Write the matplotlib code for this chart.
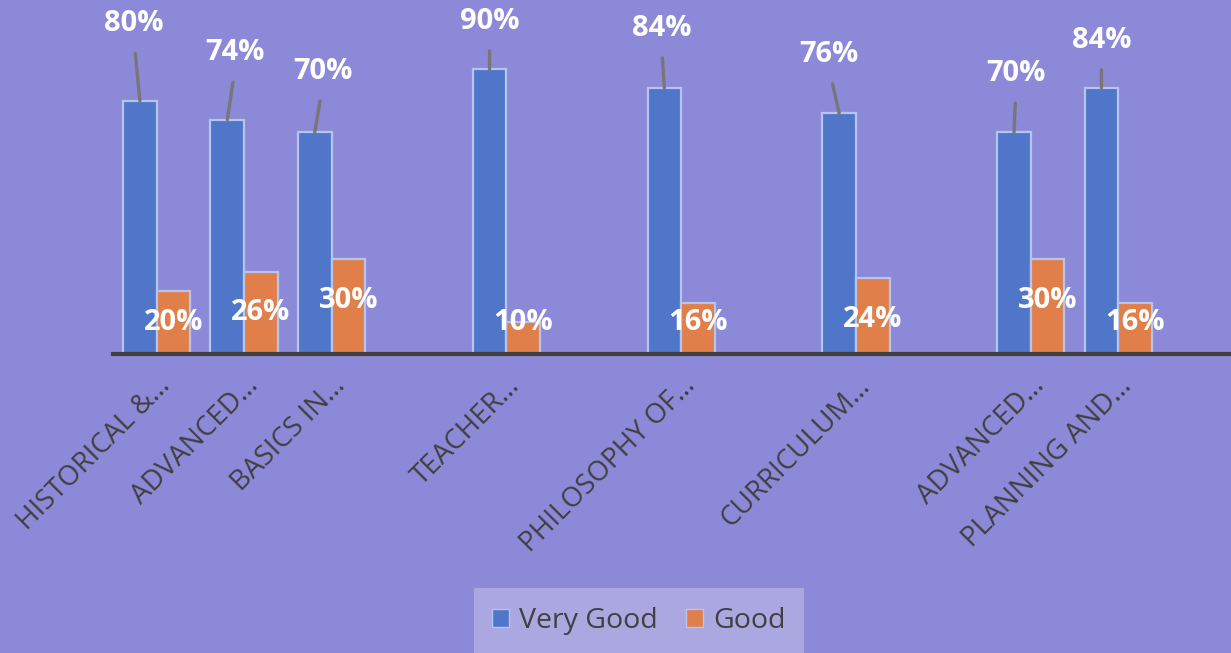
import numpy as np
import matplotlib.pyplot as plt
from matplotlib.patches import Patch

# data (blank columns are empty rows in the source sheet)
categories = ['HISTORICAL &…', 'ADVANCED…', 'BASICS IN…', '', 'TEACHER…', '',
              'PHILOSOPHY OF…', '', 'CURRICULUM…', '', 'ADVANCED…', 'PLANNING AND…']
very_good = [80, 74, 70, np.nan, 90, np.nan, 84, np.nan, 76, np.nan, 70, 84]
good = [20, 26, 30, np.nan, 10, np.nan, 16, np.nan, 24, np.nan, 30, 16]

# callout offsets for the "Very Good" labels (pixels, from bar top)
callout = [(-6, 80), (8, 70), (8, 64), None, (0, 51), None,
           (-3, 63), None, (-10, 62), None, (2, 62), (0, 51)]

BG = '#8C89D8'
BLUE = '#4F76C8'
ORANGE = '#E07F4A'
EDGE = '#B7C4EC'
DARK = '#404040'

plt.rcParams['font.family'] = ['Open Sans', 'DejaVu Sans']

fig = plt.figure(figsize=(12.31, 6.53), dpi=100, facecolor=BG)
ax = fig.add_axes([113 / 1231, 299 / 653, 1 - 113 / 1231, 354 / 653])
ax.set_facecolor(BG)

x = np.arange(len(categories))
w = 0.385
ax.bar(x - w / 2, very_good, w, color=BLUE, edgecolor=EDGE, linewidth=1.6, zorder=2)
ax.bar(x + w / 2, good, w, color=ORANGE, edgecolor=EDGE, linewidth=1.6, zorder=2)

ax.set_xlim(-0.5, 12.29)
ax.set_ylim(0, 111.8)

# labels for Very Good, with leader lines
for i, v in enumerate(very_good):
    if np.isnan(v):
        continue
    dx, dy = callout[i]
    ax.annotate(f'{v:.0f}%', xy=(x[i] - w / 2, v), xytext=(dx, dy - 3),
                textcoords='offset pixels', ha='center', va='center',
                color='white', fontsize=21, fontweight='bold',
                annotation_clip=False,
                arrowprops=dict(arrowstyle='-', color='#777777', lw=2.4,
                                relpos=(0.5, 0), shrinkA=9, shrinkB=0))

# labels for Good, near the bottom of the bars
for i, v in enumerate(good):
    if np.isnan(v):
        continue
    ax.text(x[i] + w / 2, max(10, v - 13), f'{v:.0f}%', ha='center', va='center',
            color='white', fontsize=21, fontweight='bold', zorder=3)

ax.set_xticks(x)
ax.set_xticklabels(categories, rotation=45, ha='right', va='top',
                   rotation_mode='anchor', fontsize=20, color=DARK)
ax.tick_params(axis='x', length=0, pad=13)
ax.set_yticks([])
for s in ['top', 'right', 'left']:
    ax.spines[s].set_visible(False)
ax.spines['bottom'].set_color(DARK)
ax.spines['bottom'].set_linewidth(3)
ax.spines['bottom'].set_zorder(4)

handles = [Patch(facecolor=BLUE, edgecolor=EDGE, label='Very Good'),
           Patch(facecolor=ORANGE, edgecolor=EDGE, label='Good')]
leg = fig.legend(handles=handles, loc='center', ncol=2,
                 bbox_to_anchor=(639 / 1231, 1 - 621 / 653),
                 frameon=True, fontsize=20.5, handlelength=0.6, handleheight=0.6,
                 handletextpad=0.35, columnspacing=1.0, borderpad=0.65,
                 borderaxespad=0, labelcolor=DARK)
leg.get_frame().set_facecolor('#B2AFE4')
leg.get_frame().set_edgecolor('none')
leg.get_frame().set_boxstyle('square', pad=0)

fig.savefig('out.png', dpi=100, facecolor=BG)
